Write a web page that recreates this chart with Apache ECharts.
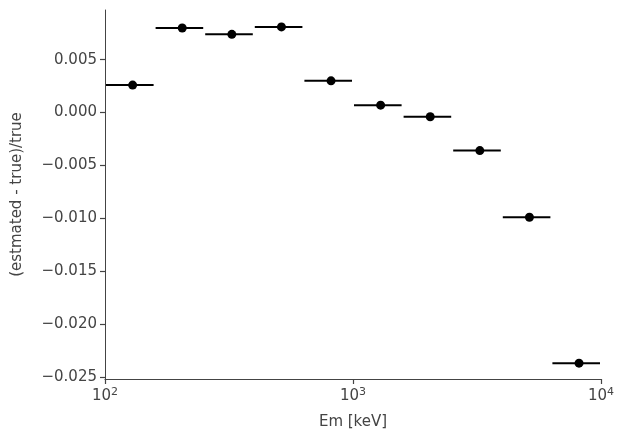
<!DOCTYPE html>
<html><head><meta charset="utf-8">
<script src="https://cdn.jsdelivr.net/npm/echarts@6/dist/echarts.min.js"></script>
<style>html,body{margin:0;padding:0;background:#fff}#c{width:625px;height:442px}</style>
</head><body><div id="c"></div>
<script>
// bin edges in keV
var binEdges = [100, 158.5, 251.2, 398.1, 631.0, 1000, 1584.9, 2511.9, 3981.1, 6309.6, 10000];
var relError = [0.0026, 0.0080, 0.0074, 0.0081, 0.0030, 0.0007, -0.0004, -0.0036, -0.0099, -0.0237];
var xTicks = [100, 1000, 10000];

var rows = [];
for (var i = 0; i < relError.length; i++) {
	rows.push([(binEdges[i] + binEdges[i+1]) / 2, relError[i], binEdges[i], binEdges[i+1]]);
}
var fnt = 'DejaVu Sans';
var chart = echarts.init(document.getElementById('c'));
chart.setOption({
	animation: false,
	grid: {left: 105, right: 24, top: 10, bottom: 63},
	xAxis: {
		type: 'log', min: 100, max: 10000, logBase: 10,
		name: 'Em [keV]', nameLocation: 'middle', nameGap: 36,
		nameTextStyle: {fontFamily: fnt, fontSize: 15, color: '#444'},
		axisLine: {onZero: false, lineStyle: {color: '#444'}},
		axisTick: {inside: false, length: 5, lineStyle: {color: '#444', width: 1.2}},
		splitLine: {show: false},
		axisLabel: {
			fontFamily: fnt, fontSize: 15, color: '#444', margin: 8,
			formatter: function (v) { return '10{s|' + Math.round(Math.log10(v)) + '}'; },
			rich: {s: {fontSize: 11, verticalAlign: 'top', padding: [0,0,8,0], fontFamily: fnt, color: '#444'}}
		}
	},
	yAxis: {
		type: 'value', min: -0.0252, max: 0.0097, splitNumber: 7,
		name: '(estmated - true)/true', nameLocation: 'middle', nameGap: 80,
		nameTextStyle: {fontFamily: fnt, fontSize: 15, color: '#444'},
		axisLine: {show: true, lineStyle: {color: '#444'}},
		axisTick: {show: true, length: 5, lineStyle: {color: '#444', width: 1.2}},
		splitLine: {show: false},
		axisLabel: {
			fontFamily: fnt, fontSize: 15, color: '#444', showMinLabel: false, showMaxLabel: false,
			formatter: function (v) { return v.toFixed(3).replace('-', '\u2212'); }
		}
	},
	series: [{
		type: 'custom',
		data: rows,
		encode: {x: 0, y: 1},
		renderItem: function (params, api) {
			var a = api.coord([api.value(2), api.value(1)]);
			var b = api.coord([api.value(3), api.value(1)]);
			var c = api.coord([api.value(0), api.value(1)]);
			return {type: 'group', children: [
				{type: 'line', shape: {x1: a[0] + 1, y1: a[1], x2: b[0] - 1, y2: b[1]}, style: {stroke: '#000', lineWidth: 2}},
				{type: 'circle', shape: {cx: c[0], cy: c[1], r: 4.5}, style: {fill: '#000'}}
			]};
		}
	}]
});
</script></body></html>
